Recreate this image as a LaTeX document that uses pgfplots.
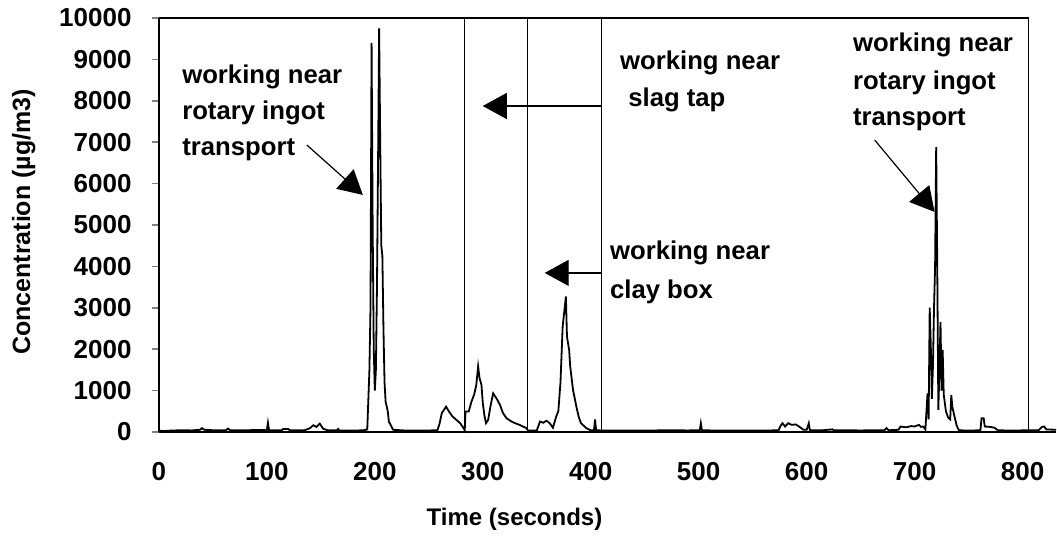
\documentclass[border=0pt]{standalone}
\usepackage{fontspec}
\setmainfont{Liberation Sans}
\usepackage{pgfplots}
\pgfplotsset{compat=1.18}
\usetikzlibrary{arrows.meta}

\begin{document}
\begin{tikzpicture}
\begin{axis}[
  scale only axis, width=448.7pt, height=207pt,
  xmin=0, xmax=831, ymin=0, ymax=10000,
  axis x line=bottom, axis y line=left,
  axis line style={-, line width=1pt},
  xtick={0,100,...,800}, ytick={0,1000,...,10000},
  scaled ticks=false,
  tick align=outside, major tick length=3.5pt,
  xtick style={draw=none}, ytick style={line width=0.8pt},
  /pgf/number format/1000 sep={},
  /pgf/number format/assume math mode=true,
  ticklabel style={font=\fontsize{13}{15}\selectfont\bfseries},
  yticklabel style={anchor=east, inner sep=0pt, xshift=-10pt},
  xticklabel style={anchor=north, inner sep=0pt, yshift=-11.5pt},
  xlabel={Time (seconds)},
  xlabel style={at={(axis description cs:0.3964,-0.2101)}, anchor=center,
    font=\fontsize{12}{14}\selectfont\bfseries},
  ylabel={Concentration (µg/m3)},
  ylabel style={at={(axis description cs:-0.1507,0.507)}, anchor=center,
    font=\fontsize{12.5}{14}\selectfont\bfseries},
  clip=false,
]
% bounding box matching the reference image
\path (axis cs:-147.2,-2729) rectangle (axis cs:831.5,10435);

% frame top and right
\draw[line width=0.9pt] (axis cs:0,10000) -- (axis cs:805.5,10000) -- (axis cs:805.5,0);

% concentration trace
\addplot[black, line width=0.9pt, mark=none] coordinates {
(0,30)(5,20)(10,30)(20,40)(30,35)(38,50)(40,90)(42,50)(50,40)(62,40)(64,80)(66,40)
(80,40)(95,45)(100,40)(101,220)(102,40)(114,40)(115,70)(120,70)(121,40)(135,40)
(140,90)(143,160)(146,120)(149,200)(152,80)(156,40)(165,40)(166,70)(167,30)(180,30)
(190,40)(193,60)(194,775)(195,1500)(196,3000)(197,9400)(198,5000)(199,2000)(200,1000)
(201,1500)(202,3500)(203,6500)(204,9750)(205,7000)(206,4500)(207,4250)(208,2500)
(209,1200)(210,730)(212,500)(213,250)(215,150)(217,50)(230,30)(245,30)(258,40)
(260,200)(262,450)(266,610)(269,480)(272,370)(276,280)(279,210)(282,100)(283.3,40)
(284,490)(287,490)(289.5,730)(292,900)(294,1135)(295.7,1580)(297,1300)(298.8,1135)
(300,700)(301.5,400)(303,210)(305,290)(307,600)(309.6,930)(312.7,810)(316,650)
(318.8,450)(322,330)(326.6,250)(330,210)(334,170)(338,120)(340.4,90)(342,30)(350,30)
(353,250)(356,220)(359,270)(362,210)(365,100)(368,370)(370,500)(372,1200)(374,2545)
(377,3270)(378,2300)(380,1980)(381,1580)(383.6,1014)(386.7,610)(389,350)(391,209)
(396,89)(400,40)(403,40)(404,300)(405,40)(413,30)(430,35)(450,30)(470,40)(490,35)
(501,40)(502,209)(503,40)(520,30)(540,35)(560,30)(574,40)(576,150)(577.6,210)
(580,130)(583,210)(586,170)(590,180)(594,110)(597,50)(600,50)(602,209)(603,40)
(615,40)(624,60)(625,40)(650,35)(672,40)(674,90)(676,40)(685,50)(687,130)(692,110)
(697,140)(700,130)(704,170)(706,120)(708,130)(710,60)(712,930)(713,300)(714,3000)
(715,2100)(716,800)(717,1580)(718,3000)(719,4000)(720,6880)(721,4000)(722,530)
(723,1500)(724,2660)(725,1000)(726,1980)(727,900)(729,500)(731,350)(733,300)
(734,890)(735,600)(737,370)(739,150)(741,40)(750,30)(761,40)(762,330)(764,330)
(765,130)(770,120)(774,100)(777,40)(790,30)(805,40)(815,40)(818,120)(820,130)
(822,60)(831,50)
};

% annotation lines
\draw[line width=0.7pt] (axis cs:283.3,0) -- (axis cs:283.3,10000);
\draw[line width=0.7pt] (axis cs:341.7,0) -- (axis cs:341.7,10000);
\draw[line width=0.7pt] (axis cs:410.2,0) -- (axis cs:410.2,10000);

\tikzset{ann/.style={font=\fontsize{12.85}{15}\selectfont\bfseries, anchor=west, inner sep=0pt},
         arr/.style={line width=0.6pt, -{Triangle[length=12pt,width=13pt]}}}

% rotary ingot transport (left)
\node[ann] at (axis cs:21.3,8575) {working near};
\node[ann] at (axis cs:21.3,7705) {rotary ingot};
\node[ann] at (axis cs:21.3,6812) {transport};
\draw[arr] (axis cs:137,6932) -- (axis cs:188.9,5725);

% slag tap
\node[ann] at (axis cs:426.9,8905) {working near};
\node[ann] at (axis cs:434.5,8019) {slag tap};
\draw[arr] (axis cs:410.2,7874) -- (axis cs:300,7874);

% clay box
\node[ann] at (axis cs:417.6,4324) {working near};
\node[ann] at (axis cs:417.6,3382) {clay box};
\draw[arr] (axis cs:410.2,3841) -- (axis cs:357.4,3841);

% rotary ingot transport (right)
\node[ann] at (axis cs:642.6,9348) {working near};
\node[ann] at (axis cs:642.6,8430) {rotary ingot};
\node[ann] at (axis cs:642.6,7536) {transport};
\draw[arr] (axis cs:663,7053) -- (axis cs:718.5,5314);
\end{axis}
\end{tikzpicture}
\end{document}
